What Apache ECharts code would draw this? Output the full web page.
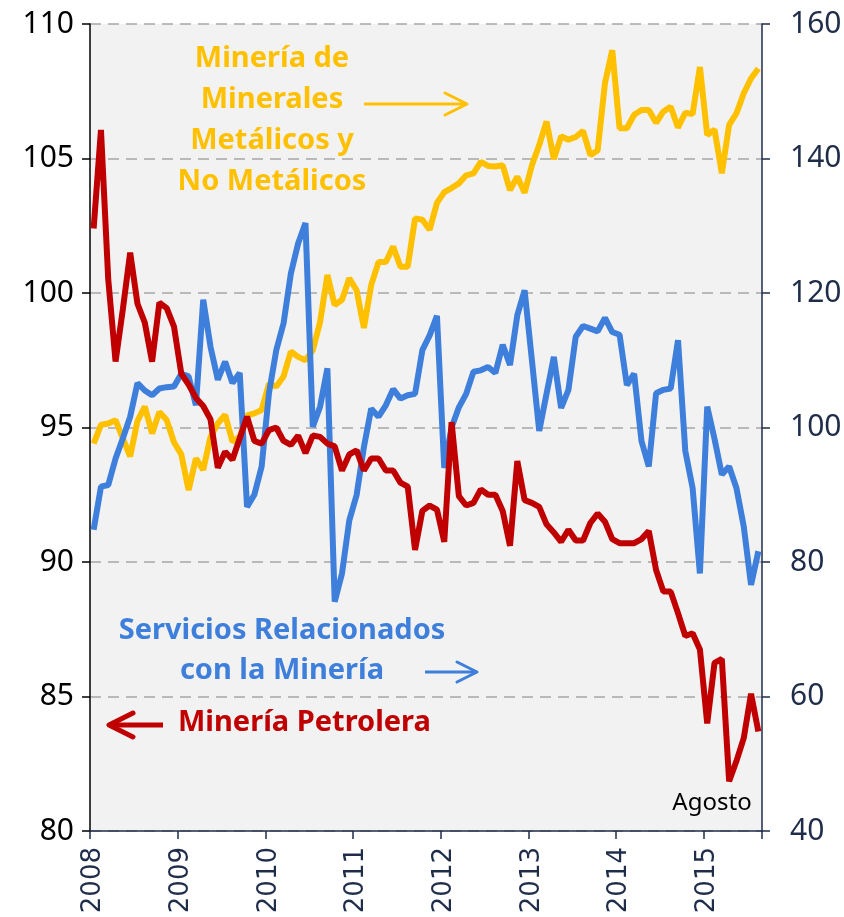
<!DOCTYPE html>
<html>
<head>
<meta charset="utf-8">
<script src="https://cdn.jsdelivr.net/npm/echarts@6/dist/echarts.min.js"></script>
<style>
  html, body { margin: 0; padding: 0; background: #fff; }
  #chart { width: 844px; height: 917px; }
</style>
</head>
<body>
<div id="chart"></div>
<script>
// años del eje x (enero 2008 - agosto 2015, mensual)
const years = ['2008', '2009', '2010', '2011', '2012', '2013', '2014', '2015']
const months = ['01', '02', '03', '04', '05', '06', '07', '08', '09', '10', '11', '12']
const lastMonth = 8
const categories = []
years.forEach((y, yi) => {
  months.forEach((m, mi) => {
    if (yi < years.length - 1 || mi < lastMonth) categories.push(y + '-' + m)
  })
})

// Minería Petrolera (eje izquierdo)
const petrolera = [
  102.4, 106.06, 100.5, 97.45, 99.4, 101.5, 99.6, 98.9, 97.45, 99.64, 99.44, 98.75,
  97.0, 96.6, 96.1, 95.8, 95.3, 93.5, 94.1, 93.8, 94.6, 95.4, 94.5, 94.4,
  94.9, 95.0, 94.5, 94.35, 94.7, 94.05, 94.7, 94.65, 94.4, 94.3, 93.4, 94.0,
  94.15, 93.4, 93.85, 93.85, 93.4, 93.4, 92.95, 92.8, 90.45, 91.9, 92.1, 91.95,
  90.75, 95.2, 92.45, 92.1, 92.2, 92.7, 92.5, 92.5, 91.9, 90.6, 93.75, 92.3,
  92.2, 92.05, 91.4, 91.1, 90.75, 91.2, 90.8, 90.8, 91.45, 91.8, 91.5, 90.85,
  90.7, 90.7, 90.7, 90.85, 91.15, 89.7, 88.9, 88.9, 88.1, 87.25, 87.35, 86.75,
  84.0, 86.25, 86.4, 81.85, 82.6, 83.45, 85.1, 83.7
]

// Servicios Relacionados con la Minería (eje derecho)
const servicios = [
  84.8, 91.2, 91.45, 95.4, 98.4, 101.6, 106.6, 105.5, 104.8, 105.8, 106.0, 106.1,
  108.0, 107.6, 103.3, 119.0, 112.0, 107.1, 109.8, 106.6, 108.1, 88.2, 90.0, 94.2,
  105.1, 111.5, 115.5, 122.9, 127.4, 130.4, 100.1, 103.1, 108.8, 74.1, 78.3, 86.2,
  89.96, 97.1, 102.8, 101.6, 103.3, 105.7, 104.3, 104.8, 105.0, 111.5, 113.7, 116.6,
  94.0, 100.0, 103.0, 105.0, 108.3, 108.5, 109.0, 108.1, 112.3, 109.3, 116.7, 120.4,
  110.0, 99.5, 105.0, 110.5, 102.9, 105.6, 113.5, 115.1, 114.7, 114.3, 116.3, 114.2,
  113.8, 106.3, 108.0, 98.0, 94.2, 105.1, 105.6, 105.8, 113.0, 96.5, 91.0, 78.3,
  103.1, 98.3, 93.0, 94.2, 91.0, 85.3, 76.6, 81.6
]

// Minería de Minerales Metálicos y No Metálicos (eje derecho)
const metalicos = [
  97.6, 100.4, 100.6, 101.1, 98.4, 95.7, 101.0, 103.1, 99.1, 102.3, 101.1, 97.8,
  96.0, 90.7, 95.4, 93.7, 98.6, 100.6, 101.9, 97.9, 98.6, 101.8, 102.1, 102.6,
  106.5, 106.1, 107.6, 111.3, 110.5, 110.0, 111.5, 115.7, 122.7, 118.2, 119.0, 122.2,
  120.4, 114.8, 121.2, 124.6, 124.6, 126.9, 123.9, 123.9, 131.1, 130.9, 129.4, 133.4,
  135.0, 135.6, 136.3, 137.5, 137.8, 139.5, 138.9, 138.8, 139.0, 135.3, 137.3, 134.9,
  139.0, 142.0, 145.5, 139.9, 143.3, 142.8, 143.2, 144.1, 140.5, 141.2, 151.2, 156.1,
  144.5, 144.5, 146.5, 147.2, 147.2, 145.3, 147.0, 147.7, 144.6, 146.8, 146.6, 153.6,
  143.5, 144.3, 137.8, 145.0, 146.7, 149.7, 151.9, 153.4
]

const RED = '#C00000'
const BLUE = '#3E7FDB'
const YELLOW = '#FFC000'
const NAVY = '#1F2D4A'

const chart = echarts.init(document.getElementById('chart'))

const isYearStart = (i) => i % 12 === 0

// flecha simple (línea + punta abierta)
const arrow = (x1, x2, y, color, w, head) => {
  const dir = x2 > x1 ? 1 : -1
  return [
    { type: 'line', shape: { x1, y1: y, x2, y2: y }, style: { stroke: color, lineWidth: w }, z: 100 },
    {
      type: 'polyline',
      shape: { points: [[x2 - dir * head, y - head * 0.5], [x2, y], [x2 - dir * head, y + head * 0.5]] },
      style: { stroke: color, lineWidth: w, fill: null, lineCap: 'round', lineJoin: 'round' },
      z: 100
    }
  ]
}

const boldFont = 'bold 29px "Noto Sans", sans-serif'

const option = {
  animation: false,
  grid: {
    left: 90, right: 82, top: 24, bottom: 86,
    outerBoundsMode: 'none',
    show: true, backgroundColor: '#F2F2F2', borderWidth: 0
  },
  xAxis: {
    type: 'category',
    data: categories,
    boundaryGap: true,
    axisLine: { lineStyle: { color: NAVY, width: 1.5 } },
    axisTick: { show: true, interval: (i) => isYearStart(i), length: 8, lineStyle: { color: NAVY, width: 1.5 } },
    axisLabel: {
      interval: (i) => isYearStart(i),
      formatter: (v) => v.slice(0, 4),
      rotate: 90,
      margin: 16,
      color: NAVY,
      fontSize: 26,
      fontFamily: 'DejaVu Sans'
    },
    splitLine: { show: false }
  },
  yAxis: [
    {
      type: 'value', min: 80, max: 110, interval: 5,
      axisLine: { show: true, lineStyle: { color: '#000', width: 1.5 } },
      axisTick: { show: true, length: 8, lineStyle: { color: '#000', width: 1.5 } },
      axisLabel: { color: '#000', fontSize: 30, fontFamily: 'Noto Sans', margin: 16 },
      splitLine: { show: true, lineStyle: { color: '#A6A6A6', width: 1.5, type: [11, 7] } }
    },
    {
      type: 'value', min: 40, max: 160, interval: 20, position: 'right',
      axisLine: { show: true, lineStyle: { color: NAVY, width: 1.5 } },
      axisTick: { show: true, length: 8, lineStyle: { color: NAVY, width: 1.5 } },
      axisLabel: { color: NAVY, fontSize: 30, fontFamily: 'Noto Sans', margin: 28 },
      splitLine: { show: false }
    }
  ],
  series: [
    {
      name: 'Minería de Minerales Metálicos y No Metálicos',
      type: 'line', yAxisIndex: 1, data: metalicos,
      symbol: 'none', lineStyle: { color: YELLOW, width: 6 }, z: 2
    },
    {
      name: 'Servicios Relacionados con la Minería',
      type: 'line', yAxisIndex: 1, data: servicios,
      symbol: 'none', lineStyle: { color: BLUE, width: 6 }, z: 3
    },
    {
      name: 'Minería Petrolera',
      type: 'line', yAxisIndex: 0, data: petrolera,
      symbol: 'none', lineStyle: { color: RED, width: 6 }, z: 4
    }
  ],
  graphic: [
    {
      type: 'text', z: 100,
      style: {
        x: 272, y: 38, text: 'Minería de\nMinerales\nMetálicos y\nNo Metálicos',
        fill: YELLOW, font: boldFont, align: 'center', lineHeight: 41
      }
    },
    ...arrow(364, 467, 104, YELLOW, 3, 22),
    {
      type: 'text', z: 100,
      style: {
        x: 282, y: 611, text: 'Servicios Relacionados\ncon la Minería',
        fill: BLUE, font: boldFont, align: 'center', lineHeight: 40
      }
    },
    ...arrow(425, 477, 672, BLUE, 3, 20),
    {
      type: 'text', z: 100,
      style: { x: 178, y: 708, text: 'Minería Petrolera', fill: RED, font: boldFont, align: 'left' }
    },
    ...arrow(163, 109, 725, RED, 5, 24),
    {
      type: 'text', z: 100,
      style: { x: 712, y: 791, text: 'Agosto', fill: '#000', font: '24px "Noto Sans", sans-serif', align: 'center' }
    }
  ]
}

chart.setOption(option)
</script>
</body>
</html>
